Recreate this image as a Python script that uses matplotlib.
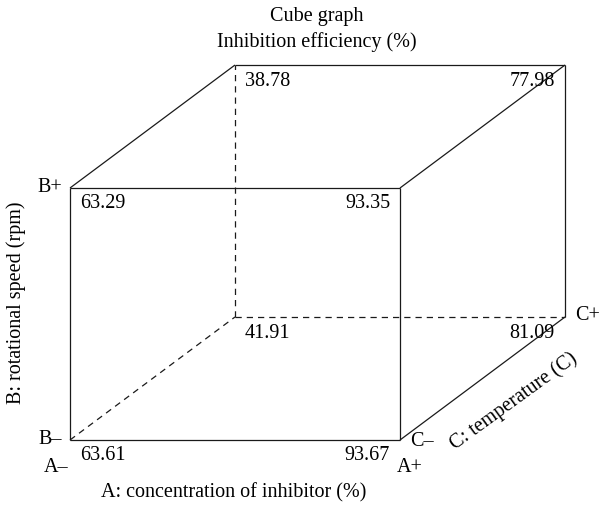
import matplotlib
matplotlib.use("Agg")
from matplotlib import pyplot as plt

plt.rcParams['font.family'] = ['Liberation Serif', 'DejaVu Serif']

# coded factor levels and response at each cube corner
a_level = [-1, 1, -1, 1, -1, 1, -1, 1]
b_level = [-1, -1, 1, 1, -1, -1, 1, 1]
c_level = [-1, -1, -1, -1, 1, 1, 1, 1]
efficiency = [63.61, 93.67, 63.29, 93.35, 41.91, 81.09, 38.78, 77.98]

title_lines = ["Cube graph", "Inhibition efficiency (%)"]
a_name = "A: concentration of inhibitor (%)"
b_name = "B: rotational speed (rpm)"
c_name = "C: temperature (C)"

# oblique projection in pixel units
X0, Y0 = 70, 440
WA, HB = 330, 252
DX, DY = 165, -123


def project(a, b, c):
    x = X0 + (a + 1) / 2 * WA + (c + 1) / 2 * DX
    y = Y0 - (b + 1) / 2 * HB + (c + 1) / 2 * DY
    return x, y


fig = plt.figure(figsize=(6.0, 5.16), dpi=100)
ax = fig.add_axes([0, 0, 1, 1])
ax.set_xlim(0, 600)
ax.set_ylim(516, 0)
ax.axis('off')

corners = list(zip(a_level, b_level, c_level))
hidden = (-1, -1, 1)
for i, p in enumerate(corners):
    for j, q in enumerate(corners):
        if j <= i:
            continue
        if sum(u != v for u, v in zip(p, q)) != 1:
            continue
        x1, y1 = project(*p)
        x2, y2 = project(*q)
        ls = (0, (5, 4)) if hidden in (p, q) else '-'
        ax.plot([x1, x2], [y1, y2], color='#1a1a1a', lw=0.9, ls=ls,
                solid_capstyle='butt')

fs = 14.5
for a, b, c, v in zip(a_level, b_level, c_level, efficiency):
    x, y = project(a, b, c)
    if a < 0:
        ax.text(x + 10, y + 16, f"{v:.2f}", ha='left', va='center', fontsize=fs)
    else:
        ax.text(x - 10, y + 16, f"{v:.2f}", ha='right', va='center', fontsize=fs)

# factor level markers
x, y = project(-1, 1, -1)
ax.text(x - 8, y, "B+", ha='right', va='center', fontsize=fs)
x, y = project(-1, -1, -1)
ax.text(x - 8, y, "B\u2013", ha='right', va='center', fontsize=fs)
ax.text(x - 14, y + 28, "A\u2013", ha='center', va='center', fontsize=fs)
x, y = project(1, -1, -1)
ax.text(x + 10, y + 28, "A+", ha='center', va='center', fontsize=fs)
ax.text(x + 10, y + 2, "C\u2013", ha='left', va='center', fontsize=fs)
x, y = project(1, -1, 1)
ax.text(x + 10, y - 2, "C+", ha='left', va='center', fontsize=fs)

# titles and axis names
ax.text(317, 16, title_lines[0], ha='center', va='center', fontsize=fs)
ax.text(317, 42, title_lines[1], ha='center', va='center', fontsize=fs)
ax.text(234, 493, a_name, ha='center', va='center', fontsize=fs)
ax.text(16, 303, b_name, ha='center', va='center', rotation=90, fontsize=fs)
ax.text(514, 401, c_name, ha='center', va='center', rotation=36, fontsize=fs,
        rotation_mode='anchor')

fig.savefig("out.png", dpi=100)
